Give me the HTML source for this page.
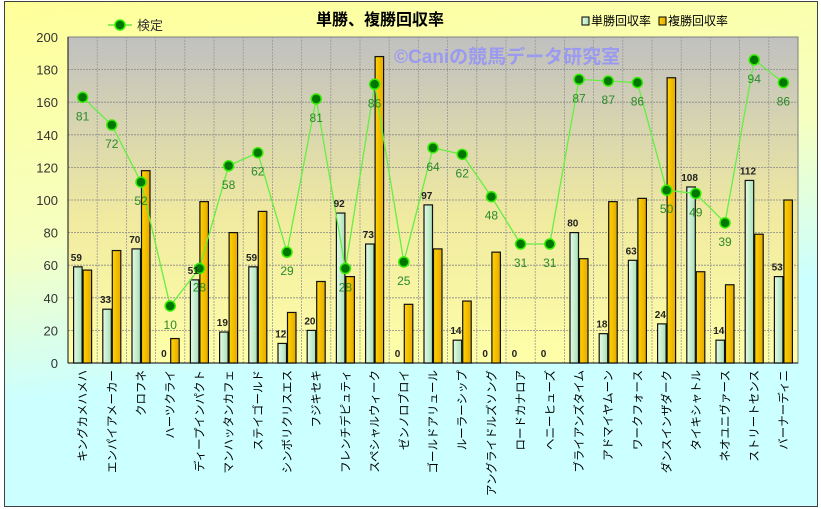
<!DOCTYPE html>
<html><head><meta charset="utf-8"><style>
html,body{margin:0;padding:0;width:821px;height:509px;overflow:hidden;background:#fff}
svg text{font-family:"Liberation Sans","Noto Sans CJK JP",sans-serif}
</style></head><body>
<svg id="chart" width="821" height="509" xmlns="http://www.w3.org/2000/svg">
<defs>
<linearGradient id="bg" x1="0" y1="0" x2="0.25" y2="1">
<stop offset="0" stop-color="#ffff99"/><stop offset="0.45" stop-color="#f6ffc0"/><stop offset="0.75" stop-color="#ccffff"/><stop offset="1" stop-color="#ccffff"/></linearGradient>
<linearGradient id="pa" x1="0" y1="0" x2="0" y2="1">
<stop offset="0" stop-color="#c0c0c0"/><stop offset="0.55" stop-color="#f0eaa0"/><stop offset="1" stop-color="#ffffa8"/></linearGradient>
<linearGradient id="tb" x1="0" y1="0" x2="1" y2="0"><stop offset="0" stop-color="#e6fbe6"/><stop offset="1" stop-color="#a8e0b8"/></linearGradient>
<linearGradient id="ob" x1="0" y1="0" x2="1" y2="0"><stop offset="0" stop-color="#ffd400"/><stop offset="1" stop-color="#e6a800"/></linearGradient>
</defs>
<rect x="4.5" y="1.5" width="813" height="505" fill="url(#bg)" stroke="#404040"/>
<rect x="68" y="37" width="730" height="326" fill="url(#pa)" stroke="#808080"/>
<g id="grid"></g>
<text x="394" y="63" font-size="19" font-weight="bold" fill="#9a9af0">©Caniの競馬データ研究室</text>
<text x="380" y="25" font-size="16" font-weight="bold" text-anchor="middle" fill="#000">単勝、複勝回収率</text>
<g>
<line x1="108" y1="25" x2="132" y2="25" stroke="#66ee44" stroke-width="1.5"/>
<circle cx="120" cy="25" r="5" fill="#007700" stroke="#33ee00" stroke-width="1.5"/>
<text x="137" y="30" font-size="13" fill="#333">検定</text></g>
<g>
<rect x="582" y="17" width="7" height="8" fill="url(#tb)" stroke="#000"/>
<text x="591" y="25" font-size="12" fill="#000">単勝回収率</text></g>
<g>
<rect x="659" y="17" width="7" height="8" fill="url(#ob)" stroke="#000"/>
<text x="668" y="25" font-size="12" fill="#000">複勝回収率</text></g>
<g id="axes"></g><g id="bars"></g><g id="line"></g><g id="labels"></g>
</svg>
<script>
const categories=["キングカメハメハ","エンパイアメーカー","クロフネ","ハーツクライ","ディープインパクト","マンハッタンカフェ","ステイゴールド","シンボリクリスエス","フジキセキ","フレンチデピュティ","スペシャルウィーク","ゼンノロブロイ","ゴールドアリュール","ルーラーシップ","アングライドルズソング","ロードカナロア","ヘニーヒューズ","ブライアンズタイム","アドマイヤムーン","ワークフォース","ダンスインザダーク","タイキシャトル","ネオユニヴァース","ストリートセンス","バーナーディニ"];
const tansho=[59,33,70,0,51,19,59,12,20,92,73,0,97,14,0,0,0,80,18,63,24,108,14,112,53];
const fukusho=[57,69,118,15,99,80,93,31,50,53,188,36,70,38,68,0,0,64,99,101,175,56,48,79,100];
const kentei=[163,146,111,35,58,121,129,68,162,58,171,62,132,128,102,73,73,174,173,172,106,104,86,186,172];
const kenteiLabels=[81,72,52,10,28,58,62,29,81,28,86,25,64,62,48,31,31,87,87,86,50,49,39,94,86];
const yTicks=[0,20,40,60,80,100,120,140,160,180,200];
const NS="http://www.w3.org/2000/svg";
const L=68,R=798,T=37,B=363,YMAX=200;
const cw=(R-L)/categories.length;
const y=v=>B-v/YMAX*(B-T);
const xc=i=>L+cw*(i+0.5);
function mk(tag,attrs,parent,txt){const e=document.createElementNS(NS,tag);for(const k in attrs)e.setAttribute(k,attrs[k]);if(txt!==undefined)e.textContent=txt;document.getElementById(parent).appendChild(e);return e;}
yTicks.forEach(t=>{
 if(t>0&&t<YMAX){const g=mk('line',{x1:L,x2:R,y1:y(t),y2:y(t),stroke:'#888','stroke-dasharray':'2,1','stroke-width':0.8},'grid');
 
 }
 const tl=mk('text',{x:L-10,y:y(t)+5,'font-size':13,'text-anchor':'end',fill:'#333'},'axes',t);
 
 
});
for(let i=1;i<categories.length;i++){const g=mk('line',{x1:L+cw*i,x2:L+cw*i,y1:T,y2:B,stroke:'#999','stroke-dasharray':'2,1','stroke-width':0.8},'grid');
 
 }
mk('line',{x1:L,x2:R,y1:B,y2:B,stroke:'#333','stroke-width':1.2},'axes');
mk('line',{x1:L,x2:L,y1:T,y2:B,stroke:'#333','stroke-width':1.2},'axes');
const bw=8.5;
categories.forEach((c,i)=>{
 const x=xc(i);
 if(tansho[i]>0){const b=mk('rect',{x:x-bw-0.5,y:y(tansho[i]),width:bw,height:B-y(tansho[i]),fill:'url(#tb)',stroke:'#111','stroke-width':1.2},'bars');
 
 }
 const tv=mk('text',{x:x-bw/2-2,y:y(tansho[i])-6,'font-size':10,'font-weight':'bold','text-anchor':'middle',fill:'#222'},'labels',tansho[i]);
 
 
 if(fukusho[i]>0){const b2=mk('rect',{x:x+0.5,y:y(fukusho[i]),width:bw,height:B-y(fukusho[i]),fill:'url(#ob)',stroke:'#111','stroke-width':1.2},'bars');
 
 }
 const cl=mk('text',{transform:`translate(${x+4},370) rotate(-90)`,'font-size':11.5,'text-anchor':'end',fill:'#000'},'labels',c);
 
 
});
const pts=kentei.map((v,i)=>xc(i)+','+y(v)).join(' ');
const pl=mk('polyline',{points:pts,fill:'none',stroke:'#66ee44','stroke-width':1.3},'line');


kentei.forEach((v,i)=>{
 const c=mk('circle',{cx:xc(i),cy:y(v),r:5,fill:'#007700',stroke:'#33ee00','stroke-width':1.5},'line');
 
 
 const t=mk('text',{x:xc(i),y:y(v)+23,'font-size':12,'text-anchor':'middle',fill:'#2a8a2a'},'line',kenteiLabels[i]);
 
 
});
</script>
</body></html>
